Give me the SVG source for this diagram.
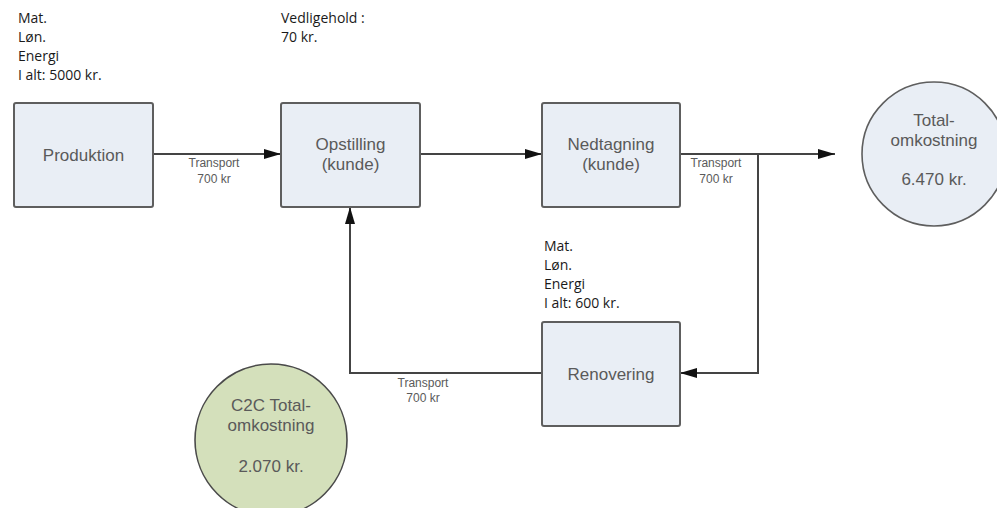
<svg xmlns="http://www.w3.org/2000/svg" width="997" height="508" viewBox="0 0 997 508">
  <style>
    .box { fill: #e9eef5; stroke: #5e5e5e; stroke-width: 2; }
    .total { fill: #e9eef5; stroke: #5e5e5e; stroke-width: 1.6; }
    .c2c { fill: #d4e0bb; stroke: #4a4a4a; stroke-width: 1.6; }
    .lbl { font-family: "Liberation Sans", Arial, sans-serif; font-size: 17px; fill: #5a5a5a; text-anchor: middle; }
    .tr { font-family: "Liberation Sans", Arial, sans-serif; font-size: 12px; fill: #5a5a5a; text-anchor: middle; }
    .note { font-family: "Open Sans", "Noto Sans", sans-serif; font-size: 14px; fill: #1a1a1a; }
    .wire { fill: none; stroke: #444; stroke-width: 2; }
  </style>
  <defs>
    <marker id="arrow" markerUnits="userSpaceOnUse" markerWidth="18" markerHeight="12" refX="17" refY="6" orient="auto">
      <path d="M0,1 L17,6 L0,11 Z" fill="#111"/>
    </marker>
  </defs>

  <rect width="997" height="508" fill="#ffffff"/>

  <!-- cost notes -->
  <g id="note-produktion" class="note">
    <text x="18" y="23">Mat.</text>
    <text x="18" y="42">Løn.</text>
    <text x="18" y="61">Energi</text>
    <text x="18" y="80">I alt: 5000 kr.</text>
  </g>
  <g id="note-vedligehold" class="note">
    <text x="281" y="23">Vedligehold :</text>
    <text x="281" y="42">70 kr.</text>
  </g>
  <g id="note-renovering" class="note">
    <text x="544" y="251">Mat.</text>
    <text x="544" y="270">Løn.</text>
    <text x="544" y="289">Energi</text>
    <text x="544" y="308">I alt: 600 kr.</text>
  </g>

  <!-- connectors -->
  <g id="connectors">
    <line class="wire" x1="153" y1="154" x2="281" y2="154" marker-end="url(#arrow)"/>
    <line class="wire" x1="420" y1="154" x2="542" y2="154" marker-end="url(#arrow)"/>
    <line class="wire" x1="680" y1="154" x2="835" y2="154" marker-end="url(#arrow)"/>
    <polyline class="wire" points="758,154 758,373 680,373" marker-end="url(#arrow)"/>
    <polyline class="wire" points="542,373 350,373 350,207" marker-end="url(#arrow)"/>
    <g class="tr">
      <text x="214" y="167">Transport</text>
      <text x="214" y="183">700 kr</text>
      <text x="716" y="167">Transport</text>
      <text x="716" y="183">700 kr</text>
      <text x="423" y="387">Transport</text>
      <text x="423" y="402">700 kr</text>
    </g>
  </g>

  <!-- process steps -->
  <g id="produktion">
    <rect class="box" x="14" y="103" width="139" height="104" rx="2"/>
    <text class="lbl" x="83.5" y="161">Produktion</text>
  </g>
  <g id="opstilling">
    <rect class="box" x="281" y="103" width="139" height="104" rx="2"/>
    <text class="lbl" x="350.5" y="150">Opstilling</text>
    <text class="lbl" x="350.5" y="170">(kunde)</text>
  </g>
  <g id="nedtagning">
    <rect class="box" x="542" y="103" width="138" height="104" rx="2"/>
    <text class="lbl" x="611" y="150">Nedtagning</text>
    <text class="lbl" x="611" y="170">(kunde)</text>
  </g>
  <g id="renovering">
    <rect class="box" x="542" y="322" width="138" height="104" rx="2"/>
    <text class="lbl" x="611" y="380">Renovering</text>
  </g>

  <!-- totals -->
  <g id="total">
    <circle class="total" cx="934" cy="154" r="72"/>
    <text class="lbl" x="934" y="126">Total-</text>
    <text class="lbl" x="934" y="146">omkostning</text>
    <text class="lbl" x="934" y="185">6.470 kr.</text>
  </g>
  <g id="c2c-total">
    <circle class="c2c" cx="271" cy="440" r="76"/>
    <text class="lbl" x="271" y="411">C2C Total-</text>
    <text class="lbl" x="271" y="431">omkostning</text>
    <text class="lbl" x="271" y="472">2.070 kr.</text>
  </g>
</svg>
